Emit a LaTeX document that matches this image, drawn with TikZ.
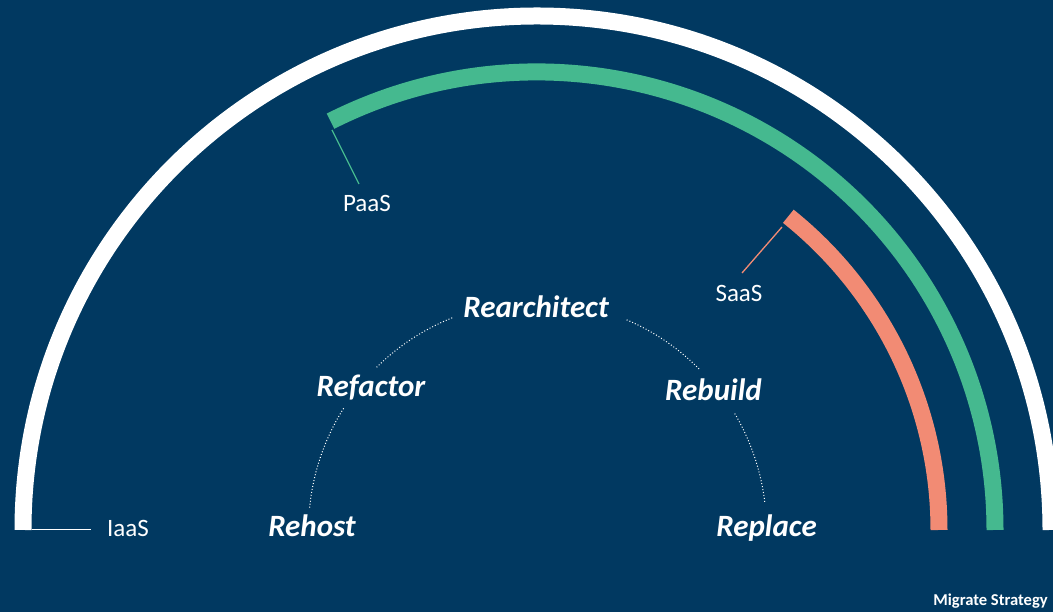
\documentclass[tikz,border=0pt]{standalone}
\usepackage{fontspec}
\setmainfont{Carlito}
\usetikzlibrary{positioning}
\definecolor{bgblue}{RGB}{1,57,97}
\definecolor{paasgreen}{RGB}{69,185,143}
\definecolor{saassalmon}{RGB}{242,139,116}
\tikzset{
    %ring and leader styles
    ring/.style={line width=17pt},
    leader/.style={line width=1.3pt},
    dotline/.style={white, line width=1pt, dotted},
    service/.style={text=white, font=\fontsize{25}{25}\selectfont, anchor=base,
      inner sep=0pt},
    strategy/.style={text=white, font=\fontsize{31}{31}\selectfont\bfseries\itshape,
      anchor=base, inner sep=0pt},
}
\begin{document}
\begin{tikzpicture}[x=1pt,y=1pt]
    \useasboundingbox (0,0) rectangle (1053,612);
    \fill[bgblue] (0,0) rectangle (1053,612);
    \clip (0,0) rectangle (1053,612);
    \coordinate (ctr) at (537,82);
    % the three rings
    \draw[ring, white] (ctr) ++(180:514) arc[start angle=180, end angle=0, radius=514];
    \draw[ring, paasgreen] (ctr) ++(116.8:458) arc[start angle=116.8, end angle=0, radius=458];
    \draw[ring, saassalmon] (ctr) ++(51.3:402) arc[start angle=51.3, end angle=0, radius=402];
    % service labels
    \node (iaas) [service] at (128,75) {IaaS};
    \node (paas) [service] at (367,400) {PaaS};
    \node (saas) [service] at (739,310) {SaaS};
    \coordinate (iaasend) at (32,82.5);
    \coordinate (paasend) at (332,482);
    \coordinate (saasend) at (782,385);
    \draw[leader, white, shorten >=16pt] (iaasend) -- (iaas.west |- iaasend);
    \draw[leader, paasgreen] (paasend) -- (359,428);
    \draw[leader, saassalmon] (saasend) -- (742,339);
    % strategies
    \node (rehost) [strategy] at (312,75) {Rehost};
    \node (refactor) [strategy] at (371,215) {Refactor};
    \node (rearch) [strategy] at (536,294) {Rearchitect};
    \node (rebuild) [strategy] at (713.5,211) {Rebuild};
    \node (replace) [strategy] at (766.5,75) {Replace};
    \draw[dotline] (ctr) ++(174.4:228.5) arc[start angle=174.4, end angle=147.6, radius=228.5];
    \draw[dotline] (ctr) ++(134.6:228.5) arc[start angle=134.6, end angle=111.6, radius=228.5];
    \draw[dotline] (ctr) ++(66.9:228.5) arc[start angle=66.9, end angle=44.8, radius=228.5];
    \draw[dotline] (ctr) ++(30.5:229.5) arc[start angle=30.5, end angle=6.7, radius=229.5];
    \node (title) [text=white, font=\fontsize{16.6}{16.6}\selectfont\bfseries,
      anchor=base east, inner sep=0pt] at (1048,6) {Migrate Strategy};
\end{tikzpicture}
\end{document}
